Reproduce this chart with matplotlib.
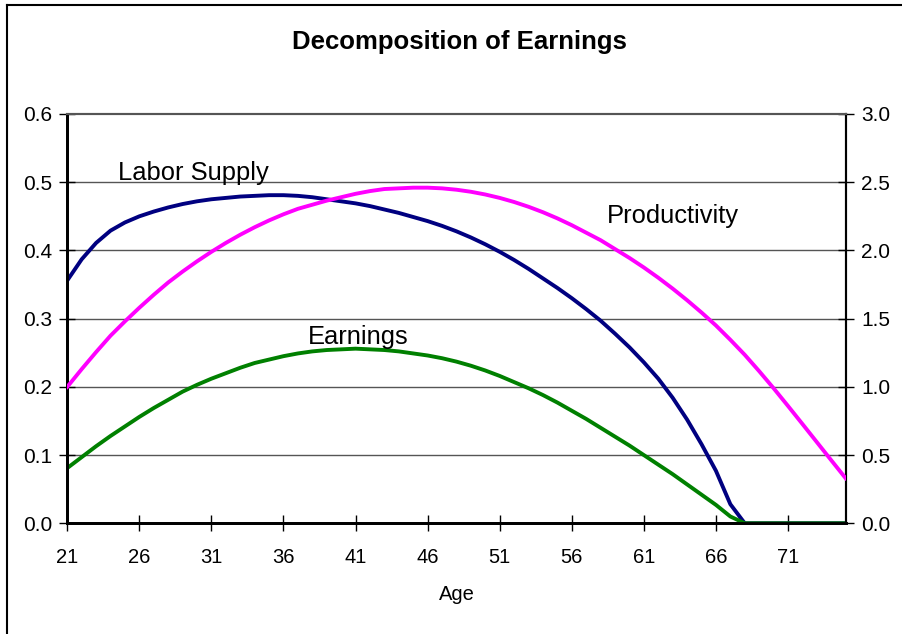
import numpy as np
import matplotlib
matplotlib.use('Agg')
import matplotlib.pyplot as plt
from matplotlib.lines import Line2D

plt.rcParams['font.family'] = ['Liberation Sans', 'DejaVu Sans']

ages = list(range(21, 76))

labor_supply = [0.356, 0.387, 0.411, 0.429, 0.441, 0.450, 0.457, 0.463, 0.468, 0.472,
                0.475, 0.477, 0.479, 0.480, 0.481, 0.481, 0.480, 0.478, 0.475, 0.472,
                0.469, 0.465, 0.460, 0.455, 0.449, 0.443, 0.436, 0.428, 0.419, 0.409,
                0.398, 0.386, 0.373, 0.359, 0.345, 0.330, 0.314, 0.297, 0.278, 0.258,
                0.236, 0.212, 0.184, 0.152, 0.116, 0.077, 0.028, 0.0, 0.0, 0.0,
                0.0, 0.0, 0.0, 0.0, 0.0]

earnings = [0.081, 0.097, 0.113, 0.128, 0.142, 0.156, 0.169, 0.181, 0.193, 0.203,
            0.212, 0.220, 0.228, 0.235, 0.240, 0.245, 0.249, 0.252, 0.254, 0.255,
            0.256, 0.255, 0.254, 0.252, 0.249, 0.246, 0.242, 0.237, 0.231, 0.224,
            0.216, 0.207, 0.198, 0.188, 0.177, 0.165, 0.153, 0.140, 0.127, 0.114,
            0.100, 0.086, 0.072, 0.057, 0.042, 0.027, 0.010, 0.0, 0.0, 0.0,
            0.0, 0.0, 0.0, 0.0, 0.0]

# right axis
productivity = [1.000, 1.130, 1.255, 1.375, 1.480, 1.580, 1.675, 1.765, 1.845, 1.920,
                1.990, 2.055, 2.115, 2.170, 2.220, 2.265, 2.305, 2.335, 2.365, 2.390,
                2.415, 2.435, 2.450, 2.455, 2.460, 2.460, 2.455, 2.445, 2.430, 2.410,
                2.385, 2.355, 2.320, 2.280, 2.235, 2.185, 2.130, 2.075, 2.010, 1.945,
                1.875, 1.800, 1.720, 1.635, 1.545, 1.450, 1.345, 1.235, 1.115, 0.990,
                0.860, 0.728, 0.595, 0.462, 0.330]

left_ticks = [0.0, 0.1, 0.2, 0.3, 0.4, 0.5, 0.6]
right_ticks = [0.0, 0.5, 1.0, 1.5, 2.0, 2.5, 3.0]
x_ticks = [21, 26, 31, 36, 41, 46, 51, 56, 61, 66, 71]

fig = plt.figure(figsize=(9.03, 6.34), dpi=100)
ax = fig.add_axes([0.0745, 0.1746, 0.862, 0.6456])
ax2 = ax.twinx()

ax.set_xlim(21, 75)
ax.set_ylim(0, 0.6)
ax2.set_ylim(0, 3.0)

for y in left_ticks[1:-1]:
    ax.axhline(y, color='#555555', lw=1.0, zorder=1)

ax.plot(ages, labor_supply, color='#000080', lw=2.8, zorder=3)
ax.plot(ages, earnings, color='#008000', lw=2.8, zorder=3)
ax2.plot(ages, productivity, color='#FF00FF', lw=2.8, zorder=3)

ax.set_yticks(left_ticks)
ax.set_yticklabels([f'{v:.1f}' for v in left_ticks])
ax2.set_yticks(right_ticks)
ax2.set_yticklabels([f'{v:.1f}' for v in right_ticks])
ax.set_xticks(x_ticks)
ax.set_xticklabels([str(v) for v in x_ticks])

ax.tick_params(axis='y', direction='inout', length=12, width=1, labelsize=15, pad=5)
ax.tick_params(axis='x', direction='inout', length=12, width=1, labelsize=14.5, pad=12)
ax2.tick_params(axis='y', direction='inout', length=12, width=1, labelsize=15, pad=5)

for a in (ax, ax2):
    a.spines['left'].set_linewidth(2)
    a.spines['bottom'].set_linewidth(2)
    a.spines['right'].set_linewidth(1.5)
    a.spines['top'].set_color('#555555')
    a.spines['top'].set_linewidth(1.5)

ax.set_xlabel('Age', fontsize=14.5, labelpad=13)

ax.text(24.55, 0.514, 'Labor Supply', fontsize=18.4, va='center', ha='left')
ax.text(37.7, 0.273, 'Earnings', fontsize=18.4, va='center', ha='left')
ax.text(58.45, 0.45, 'Productivity', fontsize=18.4, va='center', ha='left')

fig.text(0.509, 0.934, 'Decomposition of Earnings', fontsize=18.5, fontweight='bold',
         ha='center', va='center')

# outer chart border (left and top edges visible)
fig.add_artist(Line2D([7 / 903, 7 / 903], [0, 1 - 5 / 634], color='black', lw=1.5))
fig.add_artist(Line2D([7 / 903, 1], [1 - 5 / 634, 1 - 5 / 634], color='black', lw=1.5))

fig.savefig('out.png', dpi=100)
